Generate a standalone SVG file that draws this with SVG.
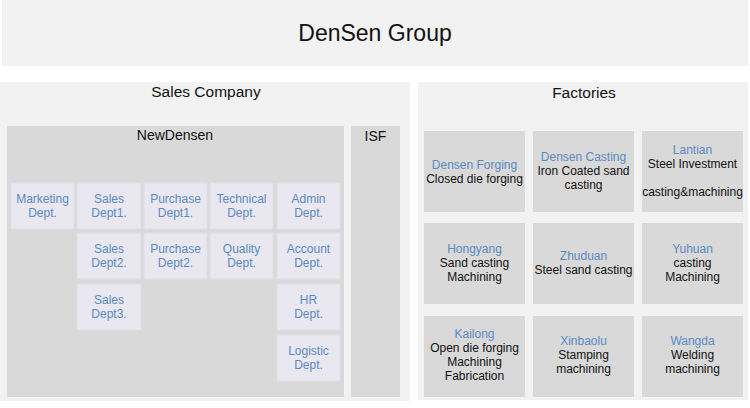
<svg xmlns="http://www.w3.org/2000/svg" width="750" height="408" viewBox="0 0 750 408">
<style>
text{font-family:"Liberation Sans",Arial,sans-serif;text-anchor:middle}
.panel{fill:#f2f2f2}
.grey{fill:#d9d9d9}
.dept{fill:#e9e7ef;stroke:#e0dee6;stroke-width:1}
.fac{fill:#d9d9d9}
.h1{font-size:23px;fill:#111}
.h2{font-size:15.5px;fill:#111}
.h3{font-size:14px;fill:#111}
.dt{font-size:12px;fill:#5b8ac2}
.ft{font-size:12px;fill:#5b8ac2}
.fb{font-size:12px;fill:#111}
</style>
<rect width="750" height="408" fill="#ffffff"/>
<g id="group">
<rect class="panel" x="2" y="0" width="746" height="66"/>
<text class="h1" x="375" y="41">DenSen Group</text>
</g>
<g id="sales-company">
<rect class="panel" x="0" y="82" width="410" height="319"/>
<text class="h2" x="206" y="97">Sales Company</text>
</g>
<g id="newdensen">
<rect class="grey" x="7" y="126" width="337" height="271"/>
<text class="h3" x="175" y="140">NewDensen</text>
</g>
<g id="isf">
<rect class="grey" x="351" y="126" width="49" height="271"/>
<text class="h3" x="375.5" y="141">ISF</text>
</g>
<g id="factories">
<rect class="panel" x="418" y="82" width="330" height="318"/>
<text class="h2" x="584" y="98">Factories</text>
</g>
<g id="connectors"></g>
<g id="marketing"><rect class="dept" x="11" y="183" width="63" height="46"/><text class="dt" x="42.5" y="203">Marketing</text><text class="dt" x="42.5" y="217">Dept.</text></g>
<g id="sales1"><rect class="dept" x="77" y="183" width="64" height="46"/><text class="dt" x="109" y="203">Sales</text><text class="dt" x="109" y="217">Dept1.</text></g>
<g id="purchase1"><rect class="dept" x="144" y="183" width="63" height="46"/><text class="dt" x="175.5" y="203">Purchase</text><text class="dt" x="175.5" y="217">Dept1.</text></g>
<g id="technical"><rect class="dept" x="210" y="183" width="63" height="46"/><text class="dt" x="241.5" y="203">Technical</text><text class="dt" x="241.5" y="217">Dept.</text></g>
<g id="admin"><rect class="dept" x="277" y="183" width="63" height="46"/><text class="dt" x="308.5" y="203">Admin</text><text class="dt" x="308.5" y="217">Dept.</text></g>
<g id="sales2"><rect class="dept" x="77" y="233" width="64" height="46"/><text class="dt" x="109" y="253">Sales</text><text class="dt" x="109" y="267">Dept2.</text></g>
<g id="purchase2"><rect class="dept" x="144" y="233" width="63" height="46"/><text class="dt" x="175.5" y="253">Purchase</text><text class="dt" x="175.5" y="267">Dept2.</text></g>
<g id="quality"><rect class="dept" x="210" y="233" width="63" height="46"/><text class="dt" x="241.5" y="253">Quality</text><text class="dt" x="241.5" y="267">Dept.</text></g>
<g id="account"><rect class="dept" x="277" y="233" width="63" height="46"/><text class="dt" x="308.5" y="253">Account</text><text class="dt" x="308.5" y="267">Dept.</text></g>
<g id="sales3"><rect class="dept" x="77" y="284" width="64" height="46"/><text class="dt" x="109" y="304">Sales</text><text class="dt" x="109" y="318">Dept3.</text></g>
<g id="hr"><rect class="dept" x="277" y="284" width="63" height="46"/><text class="dt" x="308.5" y="304">HR</text><text class="dt" x="308.5" y="318">Dept.</text></g>
<g id="logistic"><rect class="dept" x="277" y="335" width="63" height="46"/><text class="dt" x="308.5" y="355">Logistic</text><text class="dt" x="308.5" y="369">Dept.</text></g>
<g id="densen-forging"><rect class="fac" x="424" y="131" width="101" height="81"/><text class="ft" x="474.5" y="168.5">Densen Forging</text><text class="fb" x="474.5" y="182.5">Closed die forging</text></g>
<g id="densen-casting"><rect class="fac" x="533" y="131" width="101" height="81"/><text class="ft" x="583.5" y="160.5">Densen Casting</text><text class="fb" x="583.5" y="174.5">Iron Coated sand</text><text class="fb" x="583.5" y="188.5">casting</text></g>
<g id="lantian"><rect class="fac" x="642" y="131" width="101" height="81"/><text class="ft" x="692.5" y="153.5">Lantian</text><text class="fb" x="692.5" y="167.5">Steel Investment</text><text class="fb" x="692.5" y="195.5">casting&amp;machining</text></g>
<g id="hongyang"><rect class="fac" x="424" y="223" width="101" height="81"/><text class="ft" x="474.5" y="252.5">Hongyang</text><text class="fb" x="474.5" y="266.5">Sand casting</text><text class="fb" x="474.5" y="280.5">Machining</text></g>
<g id="zhuduan"><rect class="fac" x="533" y="223" width="101" height="81"/><text class="ft" x="583.5" y="259.5">Zhuduan</text><text class="fb" x="583.5" y="273.5">Steel sand casting</text></g>
<g id="yuhuan"><rect class="fac" x="642" y="223" width="101" height="81"/><text class="ft" x="692.5" y="252.5">Yuhuan</text><text class="fb" x="692.5" y="266.5">casting</text><text class="fb" x="692.5" y="280.5">Machining</text></g>
<g id="kailong"><rect class="fac" x="424" y="316" width="101" height="81"/><text class="ft" x="474.5" y="338">Kailong</text><text class="fb" x="474.5" y="352">Open die forging</text><text class="fb" x="474.5" y="366">Machining</text><text class="fb" x="474.5" y="380">Fabrication</text></g>
<g id="xinbaolu"><rect class="fac" x="533" y="316" width="101" height="81"/><text class="ft" x="583.5" y="344.5">Xinbaolu</text><text class="fb" x="583.5" y="358.5">Stamping</text><text class="fb" x="583.5" y="372.5">machining</text></g>
<g id="wangda"><rect class="fac" x="642" y="316" width="101" height="81"/><text class="ft" x="692.5" y="344.5">Wangda</text><text class="fb" x="692.5" y="358.5">Welding</text><text class="fb" x="692.5" y="372.5">machining</text></g>
</svg>
